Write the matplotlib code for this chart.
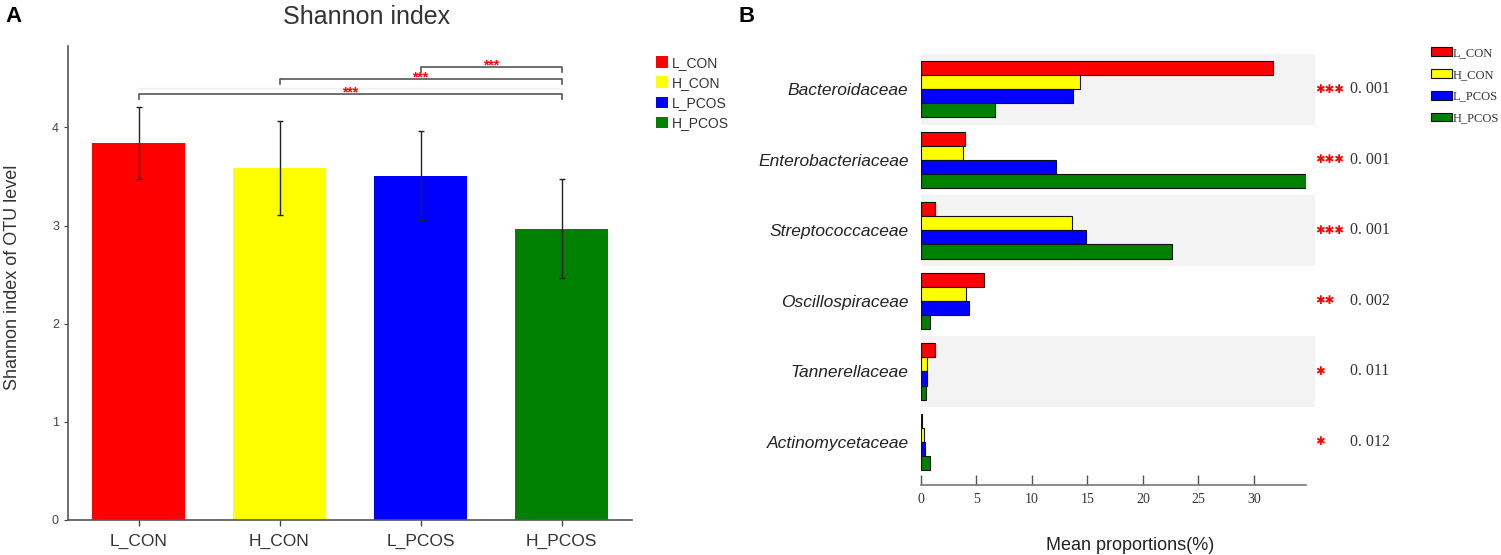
import numpy as np
import matplotlib.pyplot as plt
from matplotlib.patches import Patch, Rectangle

# ---- panel A data ----
groups = ['L_CON', 'H_CON', 'L_PCOS', 'H_PCOS']
shannon = [3.84, 3.59, 3.51, 2.97]
shannon_err = [0.37, 0.48, 0.45, 0.50]
colors = ['#ff0000', '#ffff00', '#0000ff', '#008000']

# significance brackets: (from group, to group, label)
brackets = [(0, 3, '***'), (1, 3, '***'), (2, 3, '***')]
bracket_y = [4.34, 4.49, 4.62]

# ---- panel B data ----
families = ['Bacteroidaceae', 'Enterobacteriaceae', 'Streptococcaceae',
            'Oscillospiraceae', 'Tannerellaceae', 'Actinomycetaceae']
prop_L_CON = [31.7, 4.0, 1.25, 5.7, 1.3, 0.1]
prop_H_CON = [14.3, 3.8, 13.6, 4.1, 0.55, 0.3]
prop_L_PCOS = [13.7, 12.2, 14.9, 4.3, 0.55, 0.4]
prop_H_PCOS = [6.7, 34.7, 22.6, 0.8, 0.45, 0.8]
p_values = ['0. 001', '0. 001', '0. 001', '0. 002', '0. 011', '0. 012']
p_stars = ['✱✱✱', '✱✱✱', '✱✱✱', '✱✱', '✱', '✱']

plt.rcParams['font.family'] = ['Liberation Sans', 'DejaVu Sans']

fig = plt.figure(figsize=(15.01, 5.55), dpi=100)

# ================= Panel A =================
axA = fig.add_axes([68/1501, 1-520/555, 564/1501, 474/555])
x = np.arange(len(groups))
axA.bar(x, shannon, width=0.66, color=colors)
axA.errorbar(x, shannon, yerr=shannon_err, fmt='none', ecolor='#222222',
             elinewidth=1.0, capsize=2.5, capthick=1.0)
axA.set_xlim(-0.5, 3.5)
axA.set_ylim(0, 4.83)
axA.set_xticks(x)
axA.set_xticklabels(groups, fontsize=12.5, color='#333333')
axA.set_yticks([0, 1, 2, 3, 4])
axA.tick_params(axis='y', labelsize=9, colors='#444444', length=3, width=0.8)
axA.tick_params(axis='x', length=4, width=1.0, colors='#444444', pad=6)
for lab in axA.get_xticklabels():
    lab.set_color('#333333')
for side in ['top', 'right']:
    axA.spines[side].set_visible(False)
for side in ['left', 'bottom']:
    axA.spines[side].set_color('#555555')
    axA.spines[side].set_linewidth(1.2)
axA.set_ylabel('Shannon index of OTU level', fontsize=13, color='#333333')
axA.yaxis.set_label_coords(-0.083, 0.513)

# faint guide line
axA.plot([0, 3], [4.40, 4.40], color='#eeeeee', lw=1.0, zorder=1)
for (g1, g2, lab), yb in zip(brackets, bracket_y):
    axA.plot([g1, g1, g2, g2], [yb - 0.05, yb, yb, yb - 0.05],
             color='#555555', lw=1.2, clip_on=False, zorder=2)
    axA.text((g1 + g2) / 2, yb - 0.025, lab, color='red', fontsize=10,
             ha='center', va='baseline', fontweight='bold', zorder=5)

fig.text(367/1501, 1-17/555, 'Shannon index', fontsize=18, color='#333333',
         ha='center', va='center')
fig.text(5/1501, 1-16/555, 'A', fontsize=16, fontweight='bold', va='center')

legA = [Patch(facecolor=c, edgecolor='none') for c in colors]
fig.legend(legA, groups, loc='upper left', bbox_to_anchor=(650/1501, 1-50/555),
           frameon=False, fontsize=10, handlelength=0.9, handleheight=0.9,
           handletextpad=0.3, labelspacing=0.45, borderaxespad=0,
           labelcolor='#333333')

# ================= Panel B =================
axB = fig.add_axes([921/1501, 1-485/555, 385/1501, 431/555])
yy = np.arange(len(families))
series = [prop_L_CON, prop_H_CON, prop_L_PCOS, prop_H_PCOS]
offsets = [-0.3, -0.1, 0.1, 0.3]
for vals, off, c in zip(series, offsets, colors):
    axB.barh(yy + off, vals, height=0.2, color=c, edgecolor='#111111',
             linewidth=0.8, zorder=3)
for i in range(0, len(families), 2):
    axB.add_patch(Rectangle((0, i - 0.5), 35.5, 1.0, facecolor='#f3f3f3',
                            edgecolor='none', zorder=1, clip_on=False))
axB.set_xlim(0, 34.7)
axB.set_ylim(5.61, -0.5)
axB.set_yticks(yy)
axB.set_yticklabels(families, fontsize=12.5, style='italic', color='#222222')
axB.tick_params(axis='y', length=0, pad=9)
axB.set_xticks([0, 5, 10, 15, 20, 25, 30])
axB.tick_params(axis='x', direction='in', length=7, width=1.0,
                colors='#555555', pad=6)
for lab in axB.get_xticklabels():
    lab.set_fontfamily('Liberation Serif')
    lab.set_fontsize(10)
    lab.set_color('#333333')
for side in ['top', 'right', 'left']:
    axB.spines[side].set_visible(False)
axB.spines['bottom'].set_color('#777777')
axB.spines['bottom'].set_linewidth(1.2)
axB.set_xlabel('Mean proportions(%)', fontsize=13, color='#222222')
axB.xaxis.set_label_coords(0.543, -0.12)

for i, (st, pv) in enumerate(zip(p_stars, p_values)):
    axB.text(35.5, i, st, color='red', fontsize=8.3, ha='left', va='center',
             family='DejaVu Sans', fontweight='bold', clip_on=False)
    axB.text(38.7, i, pv, color='#333333', fontsize=11.5, ha='left',
             va='center', family='Liberation Serif', clip_on=False)

fig.text(739/1501, 1-16/555, 'B', fontsize=16, fontweight='bold', va='center')

legB = [Patch(facecolor=c, edgecolor='#111111', linewidth=0.8) for c in colors]
fig.legend(legB, groups, loc='upper left', bbox_to_anchor=(1426/1501, 1-42/555),
           frameon=False, prop={'family': 'Liberation Serif', 'size': 9},
           handlelength=1.7, handleheight=0.7, handletextpad=0.05,
           labelspacing=0.78, borderaxespad=0, labelcolor='#333333')

fig.savefig('out.png', dpi=100)
